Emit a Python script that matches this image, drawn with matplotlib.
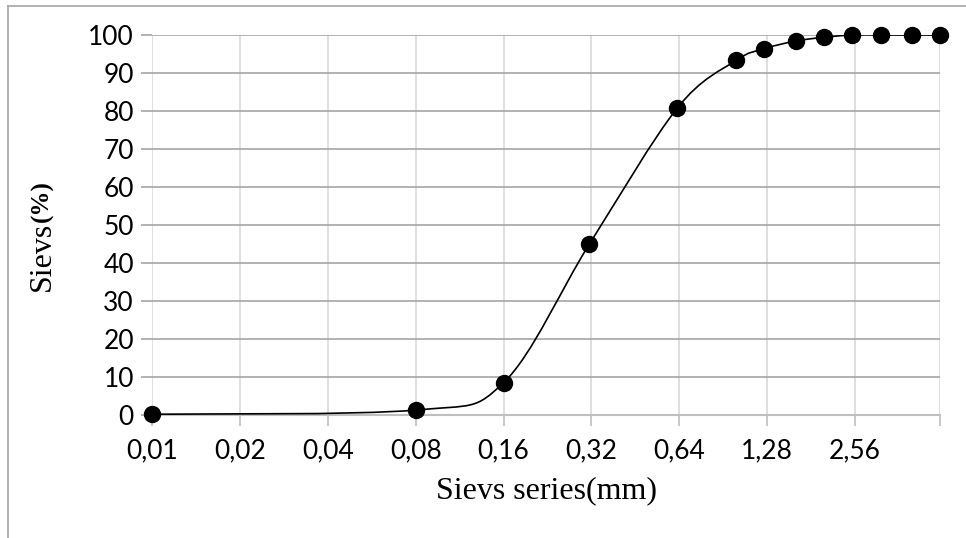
import matplotlib.pyplot as plt
import numpy as np
from matplotlib.path import Path
from matplotlib.patches import PathPatch
from matplotlib.lines import Line2D
from matplotlib.ticker import FixedLocator, FixedFormatter, NullLocator

# sieve sizes (mm) and passing percentage
sieves = [0.01, 0.08, 0.16, 0.315, 0.63, 1.0, 1.25, 1.6, 2.0, 2.5, 3.15, 4.0, 5.0]
passing = [0.2, 1.3, 8.5, 45.0, 80.8, 93.3, 96.4, 98.4, 99.4, 100, 100, 100, 100]
tick_vals = [0.01, 0.02, 0.04, 0.08, 0.16, 0.32, 0.64, 1.28, 2.56]
tick_labels = ['0,01', '0,02', '0,04', '0,08', '0,16', '0,32', '0,64', '1,28', '2,56']

fig = plt.figure(figsize=(9.66, 5.38), dpi=100)
ax = fig.add_axes([152/966, 1 - 415/538, (940-152)/966, (415-35)/538])

ax.set_xscale('log', base=2)
ax.set_xlim(0.01, 5.0)
ax.set_ylim(0, 100)

# smoothed line like excel: bezier segments built in log2 space
u = np.log2(sieves)
y = np.array(passing)
n = len(u)
verts = [(sieves[0], y[0])]
codes = [Path.MOVETO]
for i in range(n - 1):
    a = max(i - 1, 0)
    b = min(i + 2, n - 1)
    c1u = u[i] + (u[i+1] - u[a]) / 6
    c1y = y[i] + (y[i+1] - y[a]) / 6
    c2u = u[i+1] - (u[b] - u[i]) / 6
    c2y = y[i+1] - (y[b] - y[i]) / 6
    verts += [(2**c1u, c1y), (2**c2u, c2y), (sieves[i+1], y[i+1])]
    codes += [Path.CURVE4] * 3
ax.add_patch(PathPatch(Path(verts, codes), facecolor='none', edgecolor='black', lw=1.2, zorder=3))

ax.plot(sieves, passing, 'o', color='black', markersize=11.5, zorder=4, clip_on=False)

ax.xaxis.set_major_locator(FixedLocator(tick_vals + [5.0]))
ax.xaxis.set_major_formatter(FixedFormatter(tick_labels + ['']))
ax.xaxis.set_minor_locator(NullLocator())
ax.set_yticks(range(0, 101, 10))

ax.grid(axis='x', color='#d9d9d9', lw=1.2)
ax.grid(axis='y', color='#a6a6a6', lw=1.2)
ax.set_axisbelow(True)

for s in ['top', 'right', 'left']:
    ax.spines[s].set_visible(False)
ax.spines['bottom'].set_color('#bfbfbf')
ax.spines['bottom'].set_linewidth(1.5)
ax.spines['bottom'].set_zorder(2)

ax.tick_params(axis='x', length=8, color='#bfbfbf', width=1.2, pad=9, labelsize=19)
ax.tick_params(axis='y', length=8, color='#a6a6a6', width=1.2, pad=5, labelsize=19)
for lab in ax.get_xticklabels() + ax.get_yticklabels():
    lab.set_family(['Lato', 'DejaVu Sans'])

ax.set_xlabel('Sievs series(mm)', family='Liberation Serif', fontsize=23, labelpad=9)
fig.text(42/966, 1 - 222/538, 'Sievs', family='Liberation Serif', fontsize=23,
         rotation=90, ha='center', va='top')
fig.text(42/966, 1 - 222/538, '(%)', family='Liberation Serif', fontsize=18, fontweight='bold',
         rotation=90, ha='center', va='bottom')

# chart area border (left and top visible)
fig.add_artist(Line2D([8/966, 8/966], [0, 1 - 6/538], transform=fig.transFigure, color='#a6a6a6', lw=1.2))
fig.add_artist(Line2D([8/966, 1], [1 - 6/538, 1 - 6/538], transform=fig.transFigure, color='#a6a6a6', lw=1.2))

fig.savefig('out.png', dpi=100)
